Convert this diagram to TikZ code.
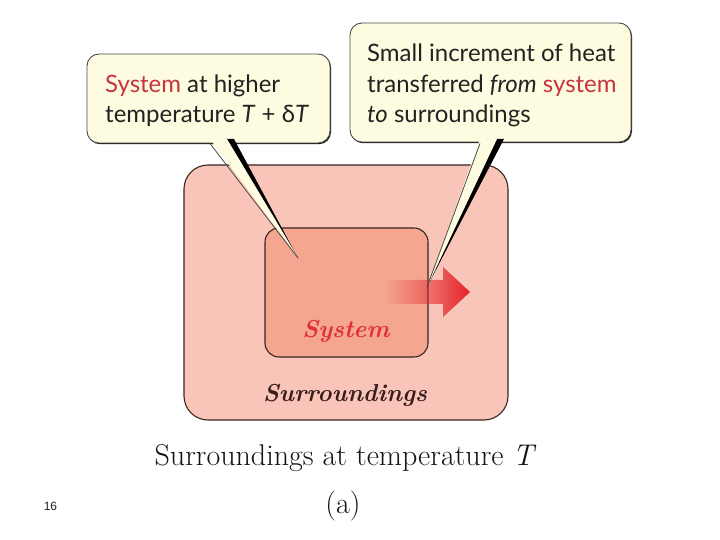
\documentclass[tikz,border=0pt]{standalone}
\usepackage{fontspec}
\newfontfamily\calloutfont{Lato}
\newfontfamily\numfont{Liberation Sans}
\usetikzlibrary{fadings}
\definecolor{surrfill}{HTML}{F9C5B8}
\definecolor{sysfill}{HTML}{F4A691}
\definecolor{boxedge}{HTML}{3A2420}
\definecolor{calloutfill}{HTML}{FEFCE0}
\definecolor{calloutedge}{HTML}{4A4A4A}
\definecolor{calloutshadow}{HTML}{1E1E1E}
\definecolor{textdark}{HTML}{222222}
\definecolor{capdark}{HTML}{141414}
\definecolor{calloutred}{HTML}{C63440}
\definecolor{labelred}{HTML}{E0303A}
\definecolor{labeldark}{HTML}{3A1E1E}
\definecolor{arrowred}{HTML}{E42228}
\tikzfading[name=arrowfade, left color=transparent!100, middle color=transparent!35, right color=transparent!0]
\begin{document}
\begin{tikzpicture}[x=1pt,y=-1pt,
  boxline/.style={draw=boxedge, line width=1.1pt},
  surrbox/.style={boxline, fill=surrfill, rounded corners=24pt, minimum width=324pt, minimum height=255pt, inner sep=0pt},
  sysbox/.style={boxline, fill=sysfill, rounded corners=14pt, minimum width=163pt, minimum height=129pt, inner sep=0pt},
  callout/.style={draw=calloutedge, line width=0.9pt, fill=calloutfill, rounded corners=12pt, inner sep=0pt},
  calloutsh/.style={fill=calloutshadow, rounded corners=12pt, inner sep=0pt},
  ctext/.style={font=\calloutfont\fontsize{24}{30}\selectfont, anchor=base west, inner sep=0pt, text=textdark},
  labeltext/.style={font=\fontsize{24.5}{28}\selectfont\bfseries\itshape, anchor=base, inner sep=0pt},
  captext/.style={font=\fontsize{30}{34}\selectfont, anchor=base, inner sep=0pt, text=capdark},
  tailfill/.style={fill=calloutfill},
  tailshade/.style={fill=black},
  tailedge/.style={draw=calloutedge, line width=0.8pt}
]
\useasboundingbox (0,0) rectangle (720,540);
\fill[white] (0,0) rectangle (720,540);

% boxes
\node[surrbox] (surr) at (346,292.5) {};
\node[sysbox] (sys) at (346.5,292.5) {};

% heat arrow
\fill[arrowred, path fading=arrowfade] (385,280) -- (443,280) -- (443,267) -- (470,292) -- (443,317) -- (443,304) -- (385,304) -- cycle;

% callouts
\node[calloutsh, minimum width=243pt, minimum height=89pt] (lsh) at (209.5,99.7) {};
\node[callout, minimum width=243pt, minimum height=89pt] (lcall) at (208.5,98.5) {};
\node[calloutsh, minimum width=281pt, minimum height=119pt] (rsh) at (491.5,83.7) {};
\node[callout, minimum width=281pt, minimum height=119pt] (rcall) at (490.5,82.5) {};

% tails
\coordinate (ltip) at (298,258);
\coordinate (rtip) at (427,287);
\fill[tailshade] (226,139) -- (234,139) -- (ltip) -- cycle;
\fill[tailfill] (210,139) -- (227,139) -- (297,256) -- cycle;
\draw[tailedge] (210,143.5) -- (ltip);
\fill[tailshade] (496,139) -- (504,139) -- (rtip) -- cycle;
\fill[tailfill] (480,139) -- (497,139) -- (428,285) -- cycle;
\draw[tailedge] (480,143.5) -- (rtip);

% callout texts
\node[ctext] (l1) at (105,93) {\textcolor{calloutred}{System} at higher};
\node[ctext] (l2) at (105,123) {temperature \textit{T} + δ\textit{T}};
\node[ctext] (r1) at (367,62) {Small increment of heat};
\node[ctext] (r2) at (367,93) {transferred \textit{from} \textcolor{calloutred}{system}};
\node[ctext] (r3) at (367,123) {\textit{to} surroundings};

% labels
\node[labeltext, text=labelred] (syslab) at (346,337) {System};
\node[labeltext, text=labeldark] (surrlab) at (345,401) {Surroundings};
\node[captext] (cap) at (345.5,465) {Surroundings at temperature \textit{T}};
\node[captext] (sub) at (343,513) {(a)};
\node[font=\numfont\fontsize{12}{14}\selectfont, anchor=base, inner sep=0pt, text=textdark] (num) at (50.5,510) {16};
\end{tikzpicture}
\end{document}
